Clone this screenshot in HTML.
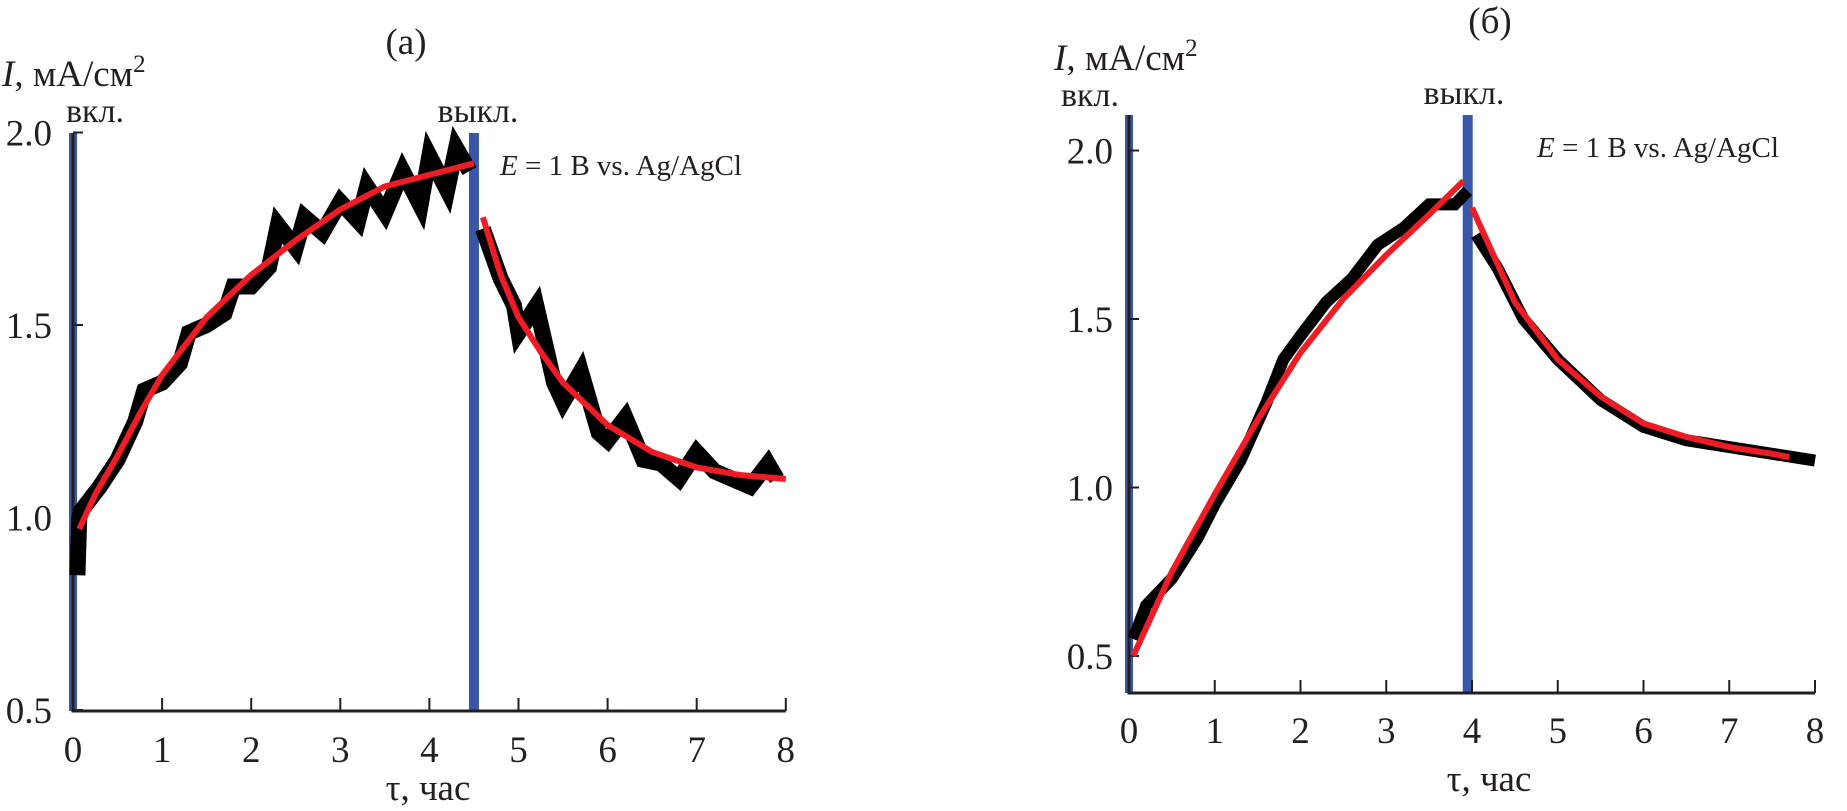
<!DOCTYPE html>
<html><head><meta charset="utf-8">
<style>
body{margin:0;background:#fff;}
svg{display:block;font-family:"Liberation Serif",serif;}
</style></head>
<body>
<svg id="fig" width="1847" height="811" viewBox="0 0 1847 811" xmlns="http://www.w3.org/2000/svg">
<g id="pa"></g>
<g id="pb"></g>
</svg>
<script>
const xTicks=[0,1,2,3,4,5,6,7,8];
const yTicks=[0.5,1.0,1.5,2.0];
const aBlackT=[0.05,0.07,0.1,0.3,0.5,0.7,0.8,1.0,1.2,1.3,1.5,1.7,1.8,2.0,2.2,2.3,2.5,2.6,2.8,3.0,3.2,3.3,3.5,3.7,3.9,4.0,4.2,4.3,4.45];
const aBlackV=[0.85,1.0,1.02,1.08,1.15,1.25,1.33,1.35,1.40,1.48,1.50,1.53,1.60,1.60,1.65,1.76,1.70,1.78,1.74,1.82,1.77,1.86,1.79,1.90,1.81,1.94,1.85,1.96,1.90];
const aBlack2T=[4.6,4.8,4.95,5.0,5.2,5.4,5.5,5.7,5.9,6.0,6.2,6.4,6.6,6.8,7.0,7.2,7.4,7.6,7.8,7.9];
const aBlack2V=[1.75,1.62,1.55,1.48,1.55,1.35,1.30,1.38,1.22,1.20,1.26,1.15,1.14,1.10,1.17,1.12,1.10,1.08,1.14,1.10];
const aRedT=[0.07,0.25,0.5,0.75,1,1.5,2,2.5,3,3.5,4,4.5];
const aRedV=[0.97,1.06,1.16,1.27,1.37,1.52,1.63,1.72,1.80,1.86,1.89,1.92];
const aRed2T=[4.6,4.8,5,5.25,5.5,6,6.5,7,7.5,8];
const aRed2V=[1.78,1.63,1.52,1.43,1.35,1.24,1.17,1.13,1.11,1.10];
const bBlackT=[0.05,0.2,0.5,0.8,1,1.3,1.6,1.8,2,2.3,2.6,2.9,3.2,3.5,3.8,3.95];
const bBlackV=[0.55,0.65,0.73,0.85,0.95,1.08,1.25,1.38,1.45,1.55,1.62,1.72,1.77,1.84,1.84,1.88];
const bBlack2T=[4.05,4.3,4.6,5,5.5,6,6.5,7,7.5,8];
const bBlack2V=[1.75,1.65,1.50,1.38,1.26,1.18,1.14,1.12,1.10,1.08];
const bRedT=[0.05,0.5,1,1.5,2,2.5,3,3.5,3.9];
const bRedV=[0.5,0.75,0.98,1.2,1.40,1.56,1.69,1.81,1.91];
const bRed2T=[4.0,4.5,5,5.5,6,6.5,7,7.5,7.7];
const bRed2V=[1.83,1.55,1.38,1.27,1.19,1.15,1.12,1.10,1.09];
const NS="http://www.w3.org/2000/svg";
function mk(parent,tag,attrs,txt){const e=document.createElementNS(NS,tag);for(const k in attrs)e.setAttribute(k,attrs[k]);if(txt!==undefined)e.textContent=txt;parent.appendChild(e);return e;}
function panel(g,P){
  const X=t=>P.x0+(t)*P.ux, Y=v=>P.y05-(v-0.5)*P.uy;
  [0,P.off].forEach((t,i)=>{const l=mk(g,'rect',{x:X(t)-(i?5:4),y:P.blueTop,width:i?10:8,height:P.axY-P.blueTop,fill:'#3a57a7'});
    
    });
  const ax=mk(g,'path',{d:`M${X(0)},${P.yAxTop}V${P.axY}H${X(8)}`,stroke:'#231f20','stroke-width':3,fill:'none'});
  
  
  xTicks.forEach(t=>{const tk=mk(g,'line',{x1:X(t),x2:X(t),y1:P.axY,y2:P.axY-13,stroke:'#231f20','stroke-width':2});
    
    
    const tl=mk(g,'text',{x:X(t),y:P.xlY,'font-size':37,'text-anchor':'middle',fill:'#231f20'},String(t));
    
    });
  yTicks.forEach(v=>{const tk=mk(g,'line',{x1:X(0),x2:X(0)+10,y1:Y(v),y2:Y(v),stroke:'#231f20','stroke-width':2});
    
    
    const tl=mk(g,'text',{x:P.ylX,y:Y(v)+13,'font-size':37,'text-anchor':'end',fill:'#231f20'},v.toFixed(1));
    
    });
  const line=(T,V,c,w,name)=>{const p=mk(g,'polyline',{points:T.map((t,i)=>X(t)+','+Y(V[i])).join(' '),stroke:c,'stroke-width':w,fill:'none','stroke-linejoin':'miter','stroke-linecap':'butt'});
    
    };
  line(P.bT,P.bV,'#000',P.bw,'measured-current-on');
  line(P.b2T,P.b2V,'#000',P.bw,'measured-current-off');
  line(P.rT,P.rV,'#ee1c25',6,'fit-curve-on');
  line(P.r2T,P.r2V,'#ee1c25',6,'fit-curve-off');
}
const ga=document.getElementById('pa'), gb=document.getElementById('pb');
panel(ga,{x0:73,ux:89.1,y05:710,uy:385,axY:711,yAxTop:133,blueTop:133,off:4.5,xlY:762,ylX:52,bw:16,
  bT:aBlackT,bV:aBlackV,b2T:aBlack2T,b2V:aBlack2V,rT:aRedT,rV:aRedV,r2T:aRed2T,r2V:aRed2V});
panel(gb,{x0:1129,ux:85.75,y05:656,uy:337,axY:693,yAxTop:115,blueTop:115,off:3.95,xlY:743,ylX:1113,bw:12,
  bT:bBlackT,bV:bBlackV,b2T:bBlack2T,b2V:bBlack2V,rT:bRedT,rV:bRedV,r2T:bRed2T,r2V:bRed2V});
function txt(g,x,y,s,anchor,html,name){const t=mk(g,'text',{x:x,y:y,'font-size':s,'text-anchor':anchor,fill:'#231f20'});t.innerHTML=html;
  
  }
txt(ga,406,54,37,'middle','(a)','panel-a-title');
txt(ga,2,86,37,'start','<tspan font-style="italic">I</tspan>, мА/см<tspan font-size="25" dy="-14">2</tspan>','y-axis-title');
txt(ga,66,122,34,'start','вкл.','on-label');
txt(ga,478,122,34,'middle','выкл.','off-label');
txt(ga,500,175,29,'start','<tspan font-style="italic">E</tspan> = 1 В vs. Ag/AgCl','potential-label');
txt(ga,428,800,37,'middle','τ, час','x-axis-title');
txt(gb,1490,33,37,'middle','(б)','panel-b-title');
txt(gb,1054,70,37,'start','<tspan font-style="italic">I</tspan>, мА/см<tspan font-size="25" dy="-14">2</tspan>','y-axis-title');
txt(gb,1090,106,34,'middle','вкл.','on-label');
txt(gb,1464,104,34,'middle','выкл.','off-label');
txt(gb,1537,157,29,'start','<tspan font-style="italic">E</tspan> = 1 В vs. Ag/AgCl','potential-label');
txt(gb,1489,791,37,'middle','τ, час','x-axis-title');
</script>
</body></html>
